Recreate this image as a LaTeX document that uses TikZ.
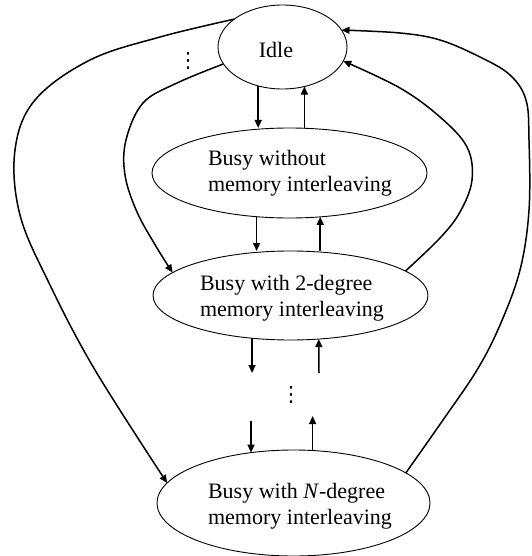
\documentclass[tikz,border=0pt]{standalone}
\usepackage{fontspec}
\setmainfont{Liberation Serif}
\newfontfamily\symfont{DejaVu Sans}
\usetikzlibrary{shapes.geometric,arrows.meta}
\begin{document}
\begin{tikzpicture}[x=1pt,y=-1pt,
  state/.style={draw,ellipse,line width=0.9pt,inner sep=0pt,outer sep=0pt},
  lbl/.style={font=\fontsize{22}{26.5}\selectfont,align=left,inner sep=0pt},
  arr/.style={line width=1.5pt,-{Triangle[length=8pt,width=7pt]}},
  vdot/.style={font=\symfont\fontsize{21}{21}\selectfont,inner sep=0pt},
]
\useasboundingbox (0,0) rectangle (531,556);

% states
\node[state,minimum width=129pt,minimum height=84pt] (idle) at (282.5,47) {};
\node[state,minimum width=275pt,minimum height=90pt] (without) at (289.5,173) {};
\node[state,minimum width=275pt,minimum height=89pt] (deg2) at (290.5,295.5) {};
\node[state,minimum width=273pt,minimum height=106pt] (degN) at (293.5,503) {};

% state labels
\node[lbl] (idletxt) at (276,50) {Idle};
\node[lbl] (withouttxt) at (300,173) {Busy without\\memory interleaving};
\node[lbl] (deg2txt) at (292,298) {Busy with 2-degree\\memory interleaving};
\node[lbl] (degNtxt) at (300,506) {Busy with \textit{N}-degree\\memory interleaving};

% omitted intermediate states
\node[vdot] (dotsA) at (188,61) {⋮};
\node[vdot] (dotsB) at (291,395) {⋮};

% free ends of the stubs around the middle dots
\coordinate (d1) at (252,373);
\coordinate (u1) at (319,373);
\coordinate (d2) at (251,421);
\coordinate (u2) at (313,416);

% vertical transitions
\draw[arr] (idle.238) -- (idle.238 |- without.north);
\draw[arr] (idle.299 |- without.north) -- (idle.299);
\draw[arr] (without.233) -- (without.233 |- deg2.north);
\draw[arr] (without.305 |- deg2.north) -- (without.305);
\draw[arr] (deg2.228) -- (deg2.228 |- d1);
\draw[arr] (u1) -- (deg2.303);
\draw[arr] (d2) -- (d2 |- degN.130);
\draw[arr] (degN.70) -- (degN.70 |- u2);

% long transitions
\draw[arr] plot[smooth,tension=0.6] coordinates {(idle.150) (160,37) (90,60) (35,100) (15,150) (20,215) (50,285) (95,370) (degN.171)};
\draw[arr] plot[smooth,tension=0.6] coordinates {(idle.196) (177,83) (143,103) (126,140) (125,175) (137,212) (157,248) (deg2.169)};
\draw[arr] plot[smooth,tension=0.6] coordinates {(deg2.12) (440,238) (460,212) (472,180) (467,147) (440,117) (400,88) (idle.-13)};
\draw[arr] plot[smooth,tension=0.6] coordinates {(degN.15) (443,420) (477,370) (500,325) (520,270) (529,210) (529,140) (526,100) (510,75) (480,57) (440,40) (400,33) (idle.16)};
\end{tikzpicture}
\end{document}
